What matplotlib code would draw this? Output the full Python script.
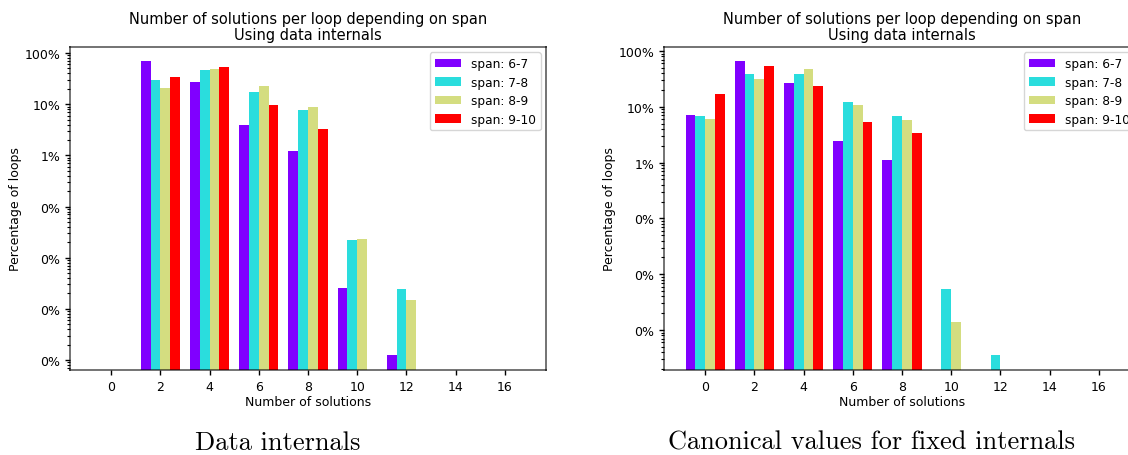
import numpy as np
import matplotlib
matplotlib.use("Agg")
import matplotlib.pyplot as plt
from matplotlib.ticker import PercentFormatter, NullFormatter, FixedLocator

# number of solutions (x groups) and span ranges
solutions = [0, 2, 4, 6, 8, 10, 12, 14, 16]
spans = ["span: 6-7", "span: 7-8", "span: 8-9", "span: 9-10"]

# fraction of loops, data internals
data_67 = [0, 0.70, 0.27, 0.039, 0.012, 2.6e-5, 1.26e-6, 0, 0]
data_78 = [0, 0.297, 0.466, 0.173, 0.077, 2.23e-4, 2.46e-5, 0, 0]
data_89 = [0, 0.207, 0.487, 0.227, 0.088, 2.33e-4, 1.5e-5, 0, 0]
data_910 = [0, 0.34, 0.533, 0.0965, 0.0328, 0, 0, 0, 0]

# fraction of loops, canonical values for fixed internals
canon_67 = [0.0713, 0.662, 0.267, 0.0244, 0.0111, 0, 0, 0, 0]
canon_78 = [0.0684, 0.387, 0.387, 0.122, 0.0684, 5.43e-5, 3.56e-6, 0, 0]
canon_89 = [0.0604, 0.315, 0.476, 0.1077, 0.058, 1.39e-5, 0, 0, 0]
canon_910 = [0.1695, 0.538, 0.236, 0.0534, 0.0339, 0, 0, 0, 0]

colors = plt.cm.rainbow(np.linspace(0, 1, 4))
width = 0.4

decades = 10.0 ** np.arange(-7, 1)
minor_pos = (decades[:, None] * np.arange(2, 10)[None, :]).ravel()

fig = plt.figure(figsize=(11.28, 4.56), dpi=100)


def draw(ax, series, ylim):
    x = np.array(solutions, dtype=float)
    for i, (vals, lab) in enumerate(zip(series, spans)):
        ax.bar(x + (i - 1.5) * width, vals, width, color=colors[i], label=lab)
    ax.set_yscale("log")
    ax.set_xticks(solutions)
    ax.yaxis.set_major_locator(FixedLocator(decades))
    ax.yaxis.set_minor_locator(FixedLocator(minor_pos))
    ax.yaxis.set_major_formatter(PercentFormatter(xmax=1, decimals=0))
    ax.yaxis.set_minor_formatter(NullFormatter())
    ax.set_ylim(*ylim)
    ax.set_xlim(-1.68, 17.68)
    ax.tick_params(labelsize=9, length=3.5, width=1)
    ax.tick_params(which="minor", length=2, width=0.8)
    ax.set_xlabel("Number of solutions", fontsize=9, labelpad=2)
    ax.set_ylabel("Percentage of loops", fontsize=9, labelpad=2)
    ax.set_title("Number of solutions per loop depending on span\nUsing data internals",
                 fontsize=10.5, linespacing=1.05, pad=6)
    for s in ax.spines.values():
        s.set_color((0, 0, 0, 0.55))
        s.set_linewidth(1.4)
    ax.legend(loc="upper right", fontsize=8.7, handlelength=2.2,
              labelspacing=0.45, borderaxespad=0.45)


ax1 = fig.add_axes([70 / 1128, 85 / 456, 476 / 1128, 323 / 456])
draw(ax1, [data_67, data_78, data_89, data_910], (6.4e-7, 1.31))

ax2 = fig.add_axes([664 / 1128, 85 / 456, 476 / 1128, 323 / 456])
draw(ax2, [canon_67, canon_78, canon_89, canon_910], (1.92e-6, 1.18))

fig.text(278 / 1128, 1 - 443 / 456, "Data internals", family="cmr10",
         fontsize=19, ha="center", va="center")
fig.text(871 / 1128, 1 - 443 / 456, "Canonical values for fixed internals",
         family="cmr10", fontsize=19, ha="center", va="center")

fig.savefig("out.png", dpi=100)
